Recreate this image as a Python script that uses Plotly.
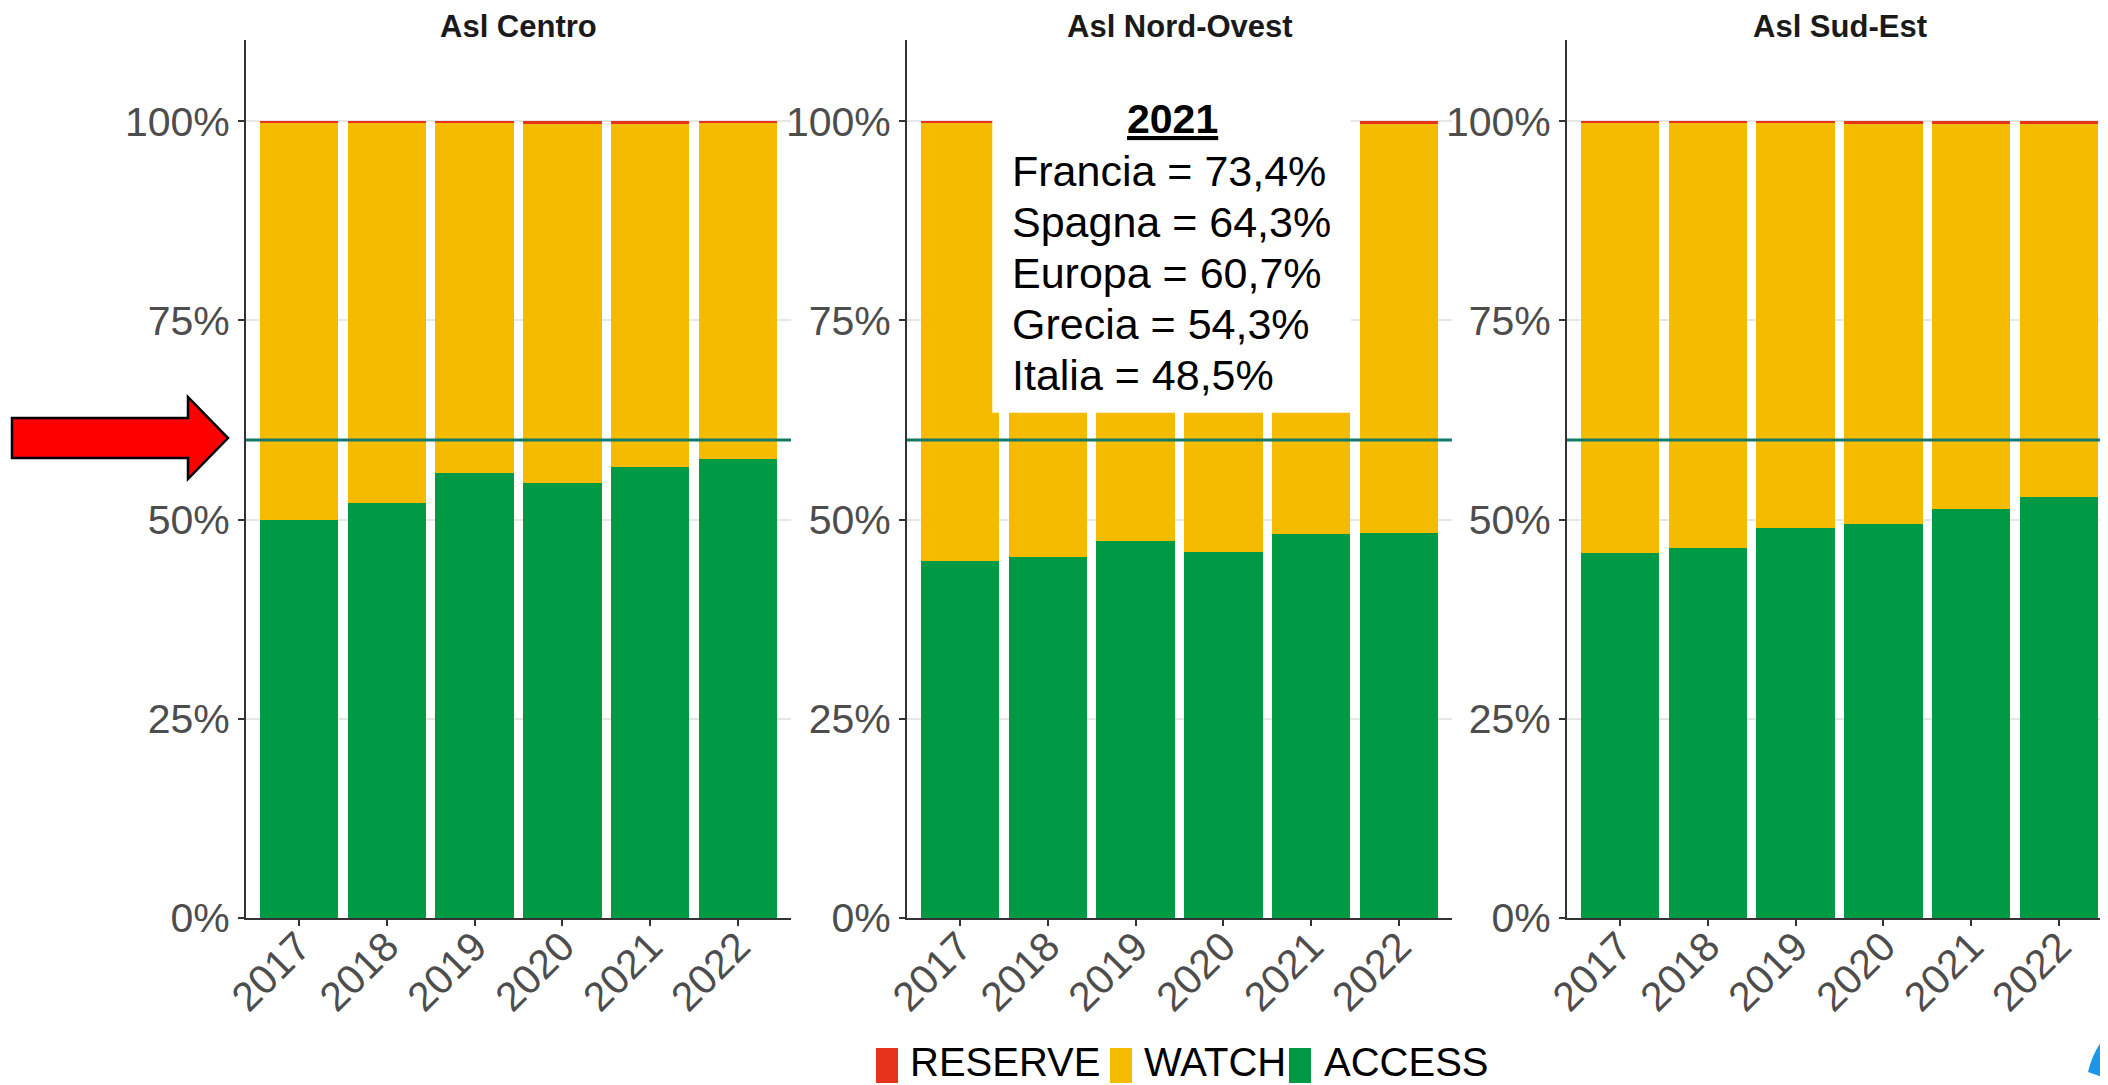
import plotly.graph_objects as go

# the page puts the figure 8px in from the top-left corner
OFF = 8
W, H = 2108 - OFF, 1085 - OFF

years = ["2017", "2018", "2019", "2020", "2021", "2022"]
asl_names = ["Asl Centro", "Asl Nord-Ovest", "Asl Sud-Est"]

# shares in % per year
access = {
    "Asl Centro": [49.9, 52.1, 55.9, 54.6, 56.6, 57.6],
    "Asl Nord-Ovest": [44.8, 45.3, 47.3, 45.9, 48.2, 48.3],
    "Asl Sud-Est": [45.8, 46.4, 49.0, 49.5, 51.3, 52.9],
}
watch = {
    "Asl Centro": [50.0, 47.8, 43.95, 45.1, 43.05, 42.2],
    "Asl Nord-Ovest": [55.0, 54.55, 52.55, 53.9, 51.6, 51.45],
    "Asl Sud-Est": [54.1, 53.5, 50.85, 50.2, 48.35, 46.85],
}
reserve = {
    "Asl Centro": [0.1, 0.1, 0.15, 0.3, 0.35, 0.2],
    "Asl Nord-Ovest": [0.2, 0.15, 0.15, 0.2, 0.2, 0.25],
    "Asl Sud-Est": [0.1, 0.1, 0.15, 0.3, 0.35, 0.25],
}
target = 60
y_ticks = [0, 25, 50, 75, 100]
y_labels = ["0%", "25%", "50%", "75%", "100%"]

note_year = "2021"
note_lines = ["Francia = 73,4%", "Spagna = 64,3%", "Europa = 60,7%",
              "Grecia = 54,3%", "Italia = 48,5%"]

colors = {"RESERVE": "#e8331c", "WATCH": "#f5bb00", "ACCESS": "#009a44"}
FONT = "Liberation Sans, Arial, sans-serif"


def px(x):
    return (x - OFF) / W


def py(y):
    return 1 - (y - OFF) / H


fig = go.Figure()

domains = [(246, 791), (907, 1452), (1567, 2108)]
ranges = [[-0.6, 5.6], [-0.6, 5.6], [-0.6, 5.555]]

for i, name in enumerate(asl_names):
    xa = "x" if i == 0 else f"x{i + 1}"
    ya = "y" if i == 0 else f"y{i + 1}"
    for cat, src in [("ACCESS", access), ("WATCH", watch), ("RESERVE", reserve)]:
        fig.add_trace(go.Bar(
            x=years, y=src[name], name=cat, xaxis=xa, yaxis=ya,
            marker_color=colors[cat], marker_line_width=0,
            showlegend=False,
        ))
    axis_common = dict(
        showline=True, linecolor="#333333", linewidth=2,
        ticks="outside", ticklen=6, tickcolor="#333333", tickwidth=1.5,
        tickfont=dict(family=FONT, size=41, color="#4d4d4d"),
        automargin=False,
    )
    d0, d1 = domains[i]
    fig.update_layout(**{
        ("xaxis" if i == 0 else f"xaxis{i + 1}"): dict(
            domain=[px(d0), px(d1)], anchor=ya, type="category",
            range=ranges[i], tickangle=-45, showgrid=False,
            ticklabelstandoff=-20, **axis_common,
        ),
        ("yaxis" if i == 0 else f"yaxis{i + 1}"): dict(
            domain=[py(918), py(40)], anchor=xa, range=[0, 110.2],
            tickmode="array", tickvals=y_ticks, ticktext=y_labels,
            showgrid=True, gridcolor="#e6e6e6", gridwidth=1.5,
            zeroline=False, **axis_common,
        ),
    })
    # panel title
    fig.add_annotation(
        x=px(d0 + 545 / 2), y=1.0, xref="paper", yref="paper",
        text=f"<b>{name}</b>", showarrow=False,
        xanchor="center", yanchor="top", borderpad=0,
        font=dict(family=FONT, size=31, color="#1a1a1a"),
    )
    # target line
    fig.add_shape(
        type="line", xref=f"{xa} domain", yref=ya, x0=0, x1=1,
        y0=target, y1=target, line=dict(color="#127a66", width=3),
        layer="above",
    )

# white note box in the middle panel
fig.add_shape(
    type="rect", xref="x2", yref="y2", x0=0.37, x1=4.45, y0=63.4, y1=110.2,
    fillcolor="white", line_width=0, layer="above",
)
fig.add_annotation(
    x=px(1172), y=py(119), xref="paper", yref="paper",
    text=f"<b><u>{note_year}</u></b>", showarrow=False,
    xanchor="center", yanchor="middle",
    font=dict(family=FONT, size=41, color="black"),
)
for k, line in enumerate(note_lines):
    fig.add_annotation(
        x=px(1010), y=py(171 + 51 * k), xref="paper", yref="paper",
        text=line, showarrow=False, xanchor="left", yanchor="middle",
        font=dict(family=FONT, size=43, color="black"),
    )

# red arrow pointing at the target line
arrow = [(12, 418), (188, 418), (188, 397), (228, 438), (188, 479),
         (188, 458), (12, 458)]
path = "M " + " L ".join(f"{px(a):.5f},{py(b):.5f}" for a, b in arrow) + " Z"
fig.add_shape(type="path", path=path, xref="paper", yref="paper",
              fillcolor="#ff0000", line=dict(color="black", width=2.5))

# manual legend
legend_items = [("RESERVE", 876, 909), ("WATCH", 1110, 1143), ("ACCESS", 1289, 1323)]
for cat, rx, tx in legend_items:
    fig.add_shape(type="rect", xref="paper", yref="paper",
                  x0=px(rx), x1=px(rx + 22), y0=py(1083), y1=py(1048),
                  fillcolor=colors[cat], line_width=0)
    fig.add_annotation(
        x=px(tx), y=py(1062), xref="paper", yref="paper", text=cat,
        showarrow=False, xanchor="left", yanchor="middle", borderpad=0,
        font=dict(family=FONT, size=40, color="black"),
    )

# clipped blue logo in the corner
fig.add_shape(
    type="path", xref="paper", yref="paper",
    path=(f"M {px(2108):.5f},{py(1033):.5f} Q {px(2093):.5f},{py(1050):.5f} "
          f"{px(2088):.5f},{py(1072):.5f} L {px(2108):.5f},{py(1079):.5f} Z"),
    fillcolor="#1c96e8", line_width=0,
)

fig.update_layout(
    barmode="stack", bargap=0.11,
    width=W, height=H,
    margin=dict(l=0, r=0, t=0, b=0),
    paper_bgcolor="white", plot_bgcolor="white",
    font=dict(family=FONT),
    showlegend=False,
)

fig.write_html("out.html")
